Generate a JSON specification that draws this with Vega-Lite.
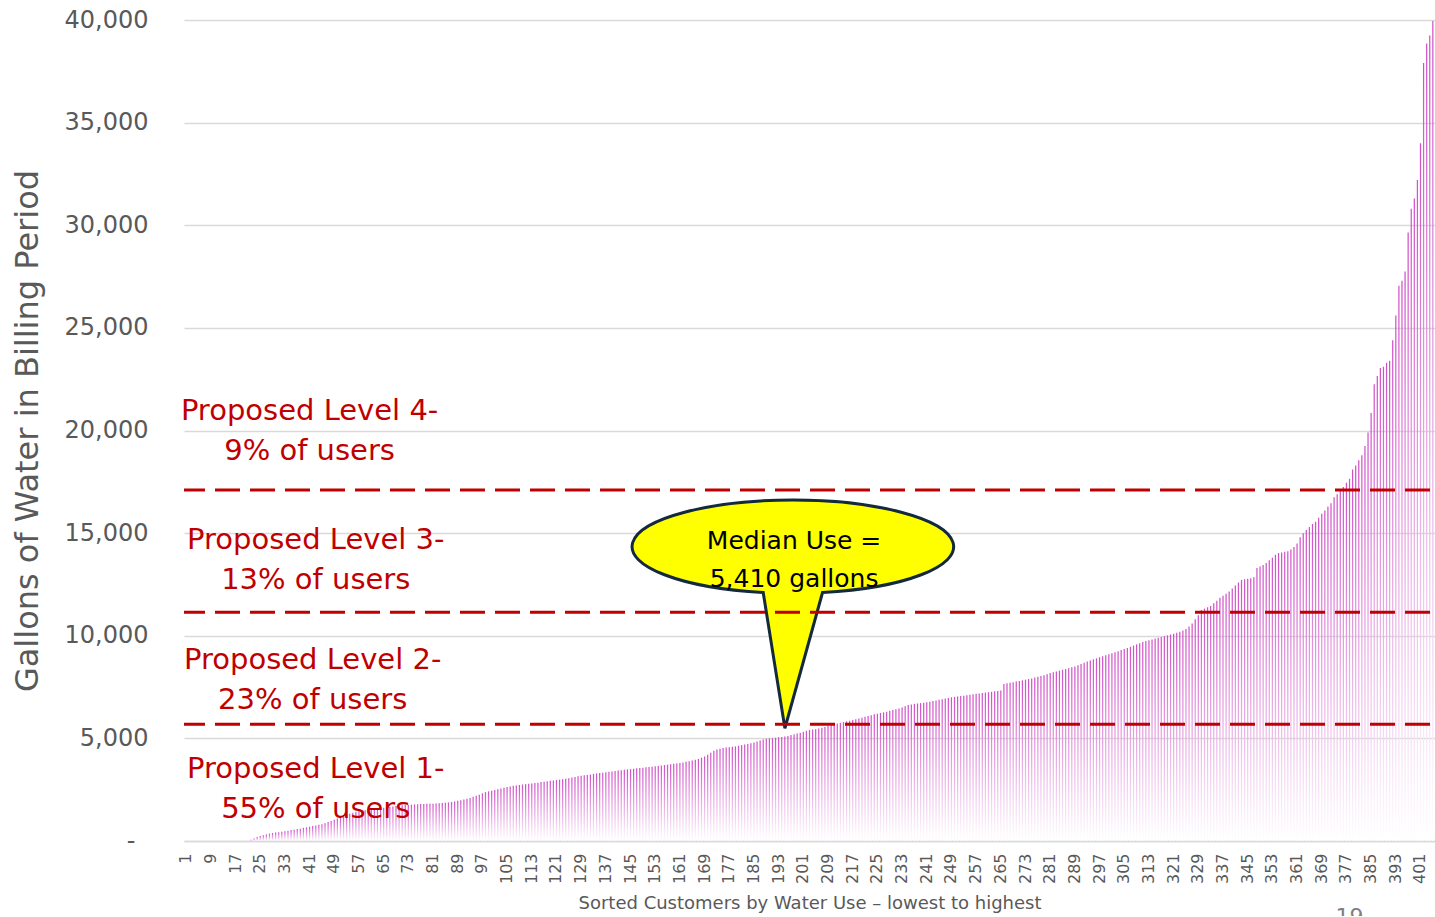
{
"$schema": "https://vega.github.io/schema/vega-lite/v6.json",
"width": 1251,
"height": 821,
"autosize": {"type": "none"},
"padding": {"left": 184, "top": 20, "right": 0, "bottom": 75},
"background": "white",
"config": {"view": {"stroke": null}, "font": "DejaVu Sans"},
"layer": [
{
"data": {"values": [
{"idx":1,"gallons":0},{"idx":2,"gallons":0},{"idx":3,"gallons":0},{"idx":4,"gallons":0},{"idx":5,"gallons":0},{"idx":6,"gallons":0},{"idx":7,"gallons":0},{"idx":8,"gallons":0},{"idx":9,"gallons":0},{"idx":10,"gallons":0},
{"idx":11,"gallons":0},{"idx":12,"gallons":0},{"idx":13,"gallons":0},{"idx":14,"gallons":0},{"idx":15,"gallons":0},{"idx":16,"gallons":0},{"idx":17,"gallons":0},{"idx":18,"gallons":0},{"idx":19,"gallons":0},{"idx":20,"gallons":0},
{"idx":21,"gallons":0},{"idx":22,"gallons":60},{"idx":23,"gallons":120},{"idx":24,"gallons":190},{"idx":25,"gallons":240},{"idx":26,"gallons":280},{"idx":27,"gallons":320},{"idx":28,"gallons":360},{"idx":29,"gallons":390},{"idx":30,"gallons":410},
{"idx":31,"gallons":430},{"idx":32,"gallons":450},{"idx":33,"gallons":470},{"idx":34,"gallons":500},{"idx":35,"gallons":530},{"idx":36,"gallons":550},{"idx":37,"gallons":580},{"idx":38,"gallons":600},{"idx":39,"gallons":640},{"idx":40,"gallons":670},
{"idx":41,"gallons":700},{"idx":42,"gallons":730},{"idx":43,"gallons":760},{"idx":44,"gallons":790},{"idx":45,"gallons":820},{"idx":46,"gallons":870},{"idx":47,"gallons":920},{"idx":48,"gallons":980},{"idx":49,"gallons":1040},{"idx":50,"gallons":1100},
{"idx":51,"gallons":1150},{"idx":52,"gallons":1200},{"idx":53,"gallons":1260},{"idx":54,"gallons":1330},{"idx":55,"gallons":1380},{"idx":56,"gallons":1420},{"idx":57,"gallons":1450},{"idx":58,"gallons":1480},{"idx":59,"gallons":1500},{"idx":60,"gallons":1520},
{"idx":61,"gallons":1540},{"idx":62,"gallons":1560},{"idx":63,"gallons":1580},{"idx":64,"gallons":1600},{"idx":65,"gallons":1620},{"idx":66,"gallons":1640},{"idx":67,"gallons":1660},{"idx":68,"gallons":1680},{"idx":69,"gallons":1700},{"idx":70,"gallons":1720},
{"idx":71,"gallons":1740},{"idx":72,"gallons":1750},{"idx":73,"gallons":1760},{"idx":74,"gallons":1770},{"idx":75,"gallons":1780},{"idx":76,"gallons":1790},{"idx":77,"gallons":1800},{"idx":78,"gallons":1800},{"idx":79,"gallons":1810},{"idx":80,"gallons":1810},
{"idx":81,"gallons":1820},{"idx":82,"gallons":1830},{"idx":83,"gallons":1840},{"idx":84,"gallons":1850},{"idx":85,"gallons":1860},{"idx":86,"gallons":1880},{"idx":87,"gallons":1900},{"idx":88,"gallons":1930},{"idx":89,"gallons":1960},{"idx":90,"gallons":1990},
{"idx":91,"gallons":2020},{"idx":92,"gallons":2060},{"idx":93,"gallons":2100},{"idx":94,"gallons":2150},{"idx":95,"gallons":2200},{"idx":96,"gallons":2250},{"idx":97,"gallons":2320},{"idx":98,"gallons":2380},{"idx":99,"gallons":2420},{"idx":100,"gallons":2450},
{"idx":101,"gallons":2480},{"idx":102,"gallons":2520},{"idx":103,"gallons":2560},{"idx":104,"gallons":2600},{"idx":105,"gallons":2630},{"idx":106,"gallons":2660},{"idx":107,"gallons":2690},{"idx":108,"gallons":2710},{"idx":109,"gallons":2730},{"idx":110,"gallons":2750},
{"idx":111,"gallons":2770},{"idx":112,"gallons":2790},{"idx":113,"gallons":2800},{"idx":114,"gallons":2820},{"idx":115,"gallons":2840},{"idx":116,"gallons":2870},{"idx":117,"gallons":2890},{"idx":118,"gallons":2910},{"idx":119,"gallons":2930},{"idx":120,"gallons":2950},
{"idx":121,"gallons":2970},{"idx":122,"gallons":2990},{"idx":123,"gallons":3010},{"idx":124,"gallons":3030},{"idx":125,"gallons":3060},{"idx":126,"gallons":3090},{"idx":127,"gallons":3120},{"idx":128,"gallons":3150},{"idx":129,"gallons":3180},{"idx":130,"gallons":3200},
{"idx":131,"gallons":3220},{"idx":132,"gallons":3240},{"idx":133,"gallons":3270},{"idx":134,"gallons":3290},{"idx":135,"gallons":3310},{"idx":136,"gallons":3330},{"idx":137,"gallons":3350},{"idx":138,"gallons":3370},{"idx":139,"gallons":3390},{"idx":140,"gallons":3410},
{"idx":141,"gallons":3430},{"idx":142,"gallons":3450},{"idx":143,"gallons":3470},{"idx":144,"gallons":3490},{"idx":145,"gallons":3500},{"idx":146,"gallons":3520},{"idx":147,"gallons":3540},{"idx":148,"gallons":3560},{"idx":149,"gallons":3570},{"idx":150,"gallons":3590},
{"idx":151,"gallons":3600},{"idx":152,"gallons":3620},{"idx":153,"gallons":3640},{"idx":154,"gallons":3660},{"idx":155,"gallons":3680},{"idx":156,"gallons":3700},{"idx":157,"gallons":3720},{"idx":158,"gallons":3740},{"idx":159,"gallons":3760},{"idx":160,"gallons":3780},
{"idx":161,"gallons":3800},{"idx":162,"gallons":3830},{"idx":163,"gallons":3860},{"idx":164,"gallons":3890},{"idx":165,"gallons":3920},{"idx":166,"gallons":3960},{"idx":167,"gallons":4000},{"idx":168,"gallons":4060},{"idx":169,"gallons":4120},{"idx":170,"gallons":4200},
{"idx":171,"gallons":4300},{"idx":172,"gallons":4400},{"idx":173,"gallons":4460},{"idx":174,"gallons":4500},{"idx":175,"gallons":4530},{"idx":176,"gallons":4550},{"idx":177,"gallons":4570},{"idx":178,"gallons":4590},{"idx":179,"gallons":4610},{"idx":180,"gallons":4640},
{"idx":181,"gallons":4670},{"idx":182,"gallons":4700},{"idx":183,"gallons":4730},{"idx":184,"gallons":4760},{"idx":185,"gallons":4800},{"idx":186,"gallons":4850},{"idx":187,"gallons":4900},{"idx":188,"gallons":4950},{"idx":189,"gallons":4980},{"idx":190,"gallons":5000},
{"idx":191,"gallons":5010},{"idx":192,"gallons":5030},{"idx":193,"gallons":5050},{"idx":194,"gallons":5070},{"idx":195,"gallons":5090},{"idx":196,"gallons":5120},{"idx":197,"gallons":5160},{"idx":198,"gallons":5200},{"idx":199,"gallons":5240},{"idx":200,"gallons":5280},
{"idx":201,"gallons":5320},{"idx":202,"gallons":5370},{"idx":203,"gallons":5410},{"idx":204,"gallons":5430},{"idx":205,"gallons":5450},{"idx":206,"gallons":5480},{"idx":207,"gallons":5520},{"idx":208,"gallons":5560},{"idx":209,"gallons":5600},{"idx":210,"gallons":5640},
{"idx":211,"gallons":5680},{"idx":212,"gallons":5720},{"idx":213,"gallons":5760},{"idx":214,"gallons":5800},{"idx":215,"gallons":5830},{"idx":216,"gallons":5860},{"idx":217,"gallons":5900},{"idx":218,"gallons":5930},{"idx":219,"gallons":5970},{"idx":220,"gallons":6010},
{"idx":221,"gallons":6050},{"idx":222,"gallons":6090},{"idx":223,"gallons":6130},{"idx":224,"gallons":6170},{"idx":225,"gallons":6200},{"idx":226,"gallons":6240},{"idx":227,"gallons":6270},{"idx":228,"gallons":6300},{"idx":229,"gallons":6340},{"idx":230,"gallons":6380},
{"idx":231,"gallons":6420},{"idx":232,"gallons":6460},{"idx":233,"gallons":6500},{"idx":234,"gallons":6560},{"idx":235,"gallons":6620},{"idx":236,"gallons":6650},{"idx":237,"gallons":6680},{"idx":238,"gallons":6700},{"idx":239,"gallons":6720},{"idx":240,"gallons":6740},
{"idx":241,"gallons":6760},{"idx":242,"gallons":6790},{"idx":243,"gallons":6820},{"idx":244,"gallons":6850},{"idx":245,"gallons":6880},{"idx":246,"gallons":6910},{"idx":247,"gallons":6940},{"idx":248,"gallons":6970},{"idx":249,"gallons":7000},{"idx":250,"gallons":7020},
{"idx":251,"gallons":7040},{"idx":252,"gallons":7060},{"idx":253,"gallons":7080},{"idx":254,"gallons":7100},{"idx":255,"gallons":7120},{"idx":256,"gallons":7150},{"idx":257,"gallons":7170},{"idx":258,"gallons":7190},{"idx":259,"gallons":7210},{"idx":260,"gallons":7230},
{"idx":261,"gallons":7250},{"idx":262,"gallons":7270},{"idx":263,"gallons":7290},{"idx":264,"gallons":7310},{"idx":265,"gallons":7330},{"idx":266,"gallons":7650},{"idx":267,"gallons":7680},{"idx":268,"gallons":7710},{"idx":269,"gallons":7740},{"idx":270,"gallons":7770},
{"idx":271,"gallons":7800},{"idx":272,"gallons":7830},{"idx":273,"gallons":7860},{"idx":274,"gallons":7890},{"idx":275,"gallons":7920},{"idx":276,"gallons":7960},{"idx":277,"gallons":8000},{"idx":278,"gallons":8040},{"idx":279,"gallons":8080},{"idx":280,"gallons":8130},
{"idx":281,"gallons":8180},{"idx":282,"gallons":8220},{"idx":283,"gallons":8260},{"idx":284,"gallons":8300},{"idx":285,"gallons":8340},{"idx":286,"gallons":8380},{"idx":287,"gallons":8420},{"idx":288,"gallons":8460},{"idx":289,"gallons":8500},{"idx":290,"gallons":8560},
{"idx":291,"gallons":8620},{"idx":292,"gallons":8680},{"idx":293,"gallons":8740},{"idx":294,"gallons":8800},{"idx":295,"gallons":8850},{"idx":296,"gallons":8900},{"idx":297,"gallons":8950},{"idx":298,"gallons":9000},{"idx":299,"gallons":9050},{"idx":300,"gallons":9100},
{"idx":301,"gallons":9150},{"idx":302,"gallons":9200},{"idx":303,"gallons":9250},{"idx":304,"gallons":9300},{"idx":305,"gallons":9350},{"idx":306,"gallons":9400},{"idx":307,"gallons":9460},{"idx":308,"gallons":9520},{"idx":309,"gallons":9580},{"idx":310,"gallons":9640},
{"idx":311,"gallons":9700},{"idx":312,"gallons":9740},{"idx":313,"gallons":9780},{"idx":314,"gallons":9820},{"idx":315,"gallons":9860},{"idx":316,"gallons":9900},{"idx":317,"gallons":9940},{"idx":318,"gallons":9980},{"idx":319,"gallons":10020},{"idx":320,"gallons":10060},
{"idx":321,"gallons":10100},{"idx":322,"gallons":10150},{"idx":323,"gallons":10200},{"idx":324,"gallons":10260},{"idx":325,"gallons":10330},{"idx":326,"gallons":10450},{"idx":327,"gallons":10600},{"idx":328,"gallons":10800},{"idx":329,"gallons":11000},{"idx":330,"gallons":11250},
{"idx":331,"gallons":11320},{"idx":332,"gallons":11390},{"idx":333,"gallons":11450},{"idx":334,"gallons":11580},{"idx":335,"gallons":11700},{"idx":336,"gallons":11850},{"idx":337,"gallons":11950},{"idx":338,"gallons":12050},{"idx":339,"gallons":12150},{"idx":340,"gallons":12300},
{"idx":341,"gallons":12450},{"idx":342,"gallons":12600},{"idx":343,"gallons":12720},{"idx":344,"gallons":12750},{"idx":345,"gallons":12780},{"idx":346,"gallons":12800},{"idx":347,"gallons":12850},{"idx":348,"gallons":13300},{"idx":349,"gallons":13380},{"idx":350,"gallons":13450},
{"idx":351,"gallons":13550},{"idx":352,"gallons":13680},{"idx":353,"gallons":13800},{"idx":354,"gallons":13950},{"idx":355,"gallons":14030},{"idx":356,"gallons":14060},{"idx":357,"gallons":14090},{"idx":358,"gallons":14120},{"idx":359,"gallons":14200},{"idx":360,"gallons":14330},
{"idx":361,"gallons":14500},{"idx":362,"gallons":14800},{"idx":363,"gallons":15000},{"idx":364,"gallons":15150},{"idx":365,"gallons":15300},{"idx":366,"gallons":15450},{"idx":367,"gallons":15560},{"idx":368,"gallons":15750},{"idx":369,"gallons":15950},{"idx":370,"gallons":16100},
{"idx":371,"gallons":16300},{"idx":372,"gallons":16450},{"idx":373,"gallons":16750},{"idx":374,"gallons":16900},{"idx":375,"gallons":17100},{"idx":376,"gallons":17250},{"idx":377,"gallons":17450},{"idx":378,"gallons":17650},{"idx":379,"gallons":18100},{"idx":380,"gallons":18300},
{"idx":381,"gallons":18550},{"idx":382,"gallons":18800},{"idx":383,"gallons":19250},{"idx":384,"gallons":19900},{"idx":385,"gallons":20850},{"idx":386,"gallons":22250},{"idx":387,"gallons":22650},{"idx":388,"gallons":23050},{"idx":389,"gallons":23100},{"idx":390,"gallons":23300},
{"idx":391,"gallons":23400},{"idx":392,"gallons":24400},{"idx":393,"gallons":25600},{"idx":394,"gallons":27050},{"idx":395,"gallons":27300},{"idx":396,"gallons":27750},{"idx":397,"gallons":29650},{"idx":398,"gallons":30800},{"idx":399,"gallons":31300},{"idx":400,"gallons":32200},
{"idx":401,"gallons":34000},{"idx":402,"gallons":37900},{"idx":403,"gallons":38850},{"idx":404,"gallons":39250},{"idx":405,"gallons":39950}
]},
"mark": {"type": "bar", "color": {"gradient": "linear", "x1": 0, "y1": 0, "x2": 0, "y2": 1, "stops": [{"offset": 0, "color": "#d04fc8"}, {"offset": 1, "color": "#ffffff"}]}},
"encoding": {
"x": {"field": "idx", "type": "ordinal", "scale": {"paddingInner": 0.6, "paddingOuter": 0.5},
 "axis": {"title": "Sorted Customers by Water Use – lowest to highest",
  "values": [1,9,17,25,33,41,49,57,65,73,81,89,97,105,113,121,129,137,145,153,161,169,177,185,193,201,209,217,225,233,241,249,257,265,273,281,289,297,305,313,321,329,337,345,353,361,369,377,385,393,401],
  "labelAngle": -90, "labelFontSize": 16, "labelColor": "#595959", "labelPadding": 12, "labelOverlap": false,
  "ticks": false, "grid": false, "domainColor": "#d9d9d9", "domainWidth": 1.5,
  "titleFontSize": 18, "titleFontWeight": "normal", "titleColor": "#595959", "titlePadding": 11}},
"y": {"field": "gallons", "type": "quantitative", "scale": {"domain": [0, 40000], "nice": false},
 "axis": {"title": "Gallons of Water in Billing Period",
  "values": [0,5000,10000,15000,20000,25000,30000,35000,40000],
  "labelExpr": "datum.value == 0 ? '-' : format(datum.value, ',')",
  "labelFontSize": 24, "labelColor": "#595959",
  "labelPadding": {"condition": {"test": "datum.value == 0", "value": 49}, "value": 36},
  "ticks": false, "domain": false, "gridColor": "#d9d9d9", "gridWidth": 1.5,
  "titleFontSize": 32, "titleFontWeight": "normal", "titleColor": "#595959", "titlePadding": 20}}
}
},
{
"data": {"values": [{"idx": 198, "gallons": 14339}]},
"mark": {"type": "point", "shape": "M0.177,0.285A1,0.29,0,1,0,-0.192,0.285L-0.057,1.129Z", "filled": true, "color": "#ffff00", "fill": "#ffff00", "stroke": "#13293d", "strokeWidth": 3, "size": 103427, "opacity": 1},
"encoding": {
"x": {"field": "idx", "type": "ordinal"},
"y": {"field": "gallons", "type": "quantitative"}
}
},
{
"data": {"values": [{"idx": 198, "gallons": 14212, "label": "Median Use ="}, {"idx": 198, "gallons": 12361, "label": "5,410 gallons"}]},
"mark": {"type": "text", "fontSize": 25, "color": "#000000", "align": "center", "baseline": "alphabetic"},
"encoding": {
"x": {"field": "idx", "type": "ordinal"},
"y": {"field": "gallons", "type": "quantitative"},
"text": {"field": "label"}
}
},
{
"data": {"values": [{"gallons": 5690}, {"gallons": 11140}, {"gallons": 17100}]},
"mark": {"type": "rule", "color": "#c00000", "strokeWidth": 3, "strokeDash": [25, 10], "strokeDashOffset": 30},
"encoding": {
"y": {"field": "gallons", "type": "quantitative"}
}
},
{
"data": {"values": [
{"idx": 41, "gallons": 20512, "label": "Proposed Level 4-"},
{"idx": 41, "gallons": 18563, "label": "9% of users"},
{"idx": 43, "gallons": 14227, "label": "Proposed Level 3-"},
{"idx": 43, "gallons": 12278, "label": "13% of users"},
{"idx": 42, "gallons": 8380, "label": "Proposed Level 2-"},
{"idx": 42, "gallons": 6431, "label": "23% of users"},
{"idx": 43, "gallons": 3055, "label": "Proposed Level 1-"},
{"idx": 43, "gallons": 1106, "label": "55% of users"}
]},
"mark": {"type": "text", "fontSize": 29, "color": "#c00000", "align": "center", "baseline": "alphabetic"},
"encoding": {
"x": {"field": "idx", "type": "ordinal"},
"y": {"field": "gallons", "type": "quantitative"},
"text": {"field": "label"}
}
},
{
"data": {"values": [{"idx": 378, "gallons": -4044, "label": "19"}]},
"mark": {"type": "text", "fontSize": 22, "color": "#7f7f7f", "align": "center", "baseline": "alphabetic"},
"encoding": {
"x": {"field": "idx", "type": "ordinal"},
"y": {"field": "gallons", "type": "quantitative"},
"text": {"field": "label"}
}
}
]
}
